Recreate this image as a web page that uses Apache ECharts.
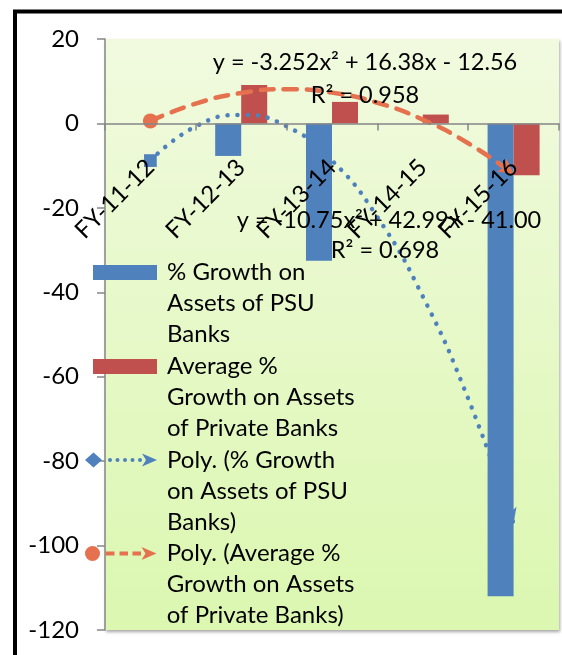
<!DOCTYPE html>
<html>
<head>
<meta charset="utf-8">
<script src="https://cdn.jsdelivr.net/npm/echarts@6/dist/echarts.min.js"></script>
<style>
  html, body { margin: 0; padding: 0; background: #fff; }
  #chart { width: 562px; height: 655px; }
</style>
</head>
<body>
<div id="chart"></div>
<script>
// categories and values
const categories = ['FY-11-12', 'FY-12-13', 'FY-13-14', 'FY-14-15', 'FY-15-16'];
const psuGrowth = [null, -7.7, -32.5, null, -112];
const privateGrowth = [null, 9.1, 5.1, 2.1, -12.3];

// trend curves, read at every half category
const trendX = [1, 1.5, 2, 2.5, 3, 3.5, 4, 4.5, 5];
const psuTrend = [-8.8, -0.7, 2.0, -0.7, -8.8, -22.2, -41.0, -65.2, -94.8];
const privateTrend = [0.6, 4.7, 7.2, 8.1, 7.3, 4.9, 0.9, -4.7, -12.0];

const yMin = -120, yMax = 20, yStep = 20;

const psuName = '% Growth on Assets of PSU Banks';
const privName = 'Average % Growth on Assets of Private Banks';
const psuPolyName = 'Poly. (% Growth on Assets of PSU Banks)';
const privPolyName = 'Poly. (Average % Growth on Assets of Private Banks)';

// two blank lines first so the first text line sits level with the key
const legendText = {};
legendText[psuName] = '\n\n% Growth on\nAssets of PSU\nBanks';
legendText[privName] = '\n\nAverage %\nGrowth on Assets\nof Private Banks';
legendText[psuPolyName] = '\n\nPoly. (% Growth\non Assets of PSU\nBanks)';
legendText[privPolyName] = '\n\nPoly. (Average %\nGrowth on Assets\nof Private Banks)';

const FONT = 'Lato';
const BLUE = '#4F81BD';
const RED = '#C0504D';
const ORANGE = '#E5714E';

const gridTop = 39, gridBottom = 25, chartH = 655;
const gridH = chartH - gridTop - gridBottom;
// category axis sits on the zero line
const zeroOffset = gridH * (0 - yMin) / (yMax - yMin);

const chart = echarts.init(document.getElementById('chart'));

function trendData(ys, startSymbol, startSize, startRotate, endRotate) {
  return trendX.map((x, i) => {
    const item = { value: [x, ys[i]], symbol: 'none' };
    if (i === 0) {
      item.symbol = startSymbol;
      item.symbolSize = startSize;
      item.symbolRotate = startRotate;
    }
    if (i === ys.length - 1) {
      item.symbol = 'arrow';
      item.symbolSize = [12, 15];
      item.symbolRotate = endRotate;
    }
    return item;
  });
}

const arrowPath = 'M57,1L72,7.5L57,14L61,7.5Z';
const dotsPath = [25, 32.5, 40, 47.5, 55]
  .map(c => 'M' + (c - 2) + ',7.5a2,2 0 1,0 4,0a2,2 0 1,0 -4,0Z').join('');
const psuPolyIcon = 'path://M0,7.5L8.5,0L17,7.5L8.5,15Z' + dotsPath + arrowPath;
const privPolyIcon = 'path://M0.5,7.5a7.5,7.5 0 1,0 15,0a7.5,7.5 0 1,0 -15,0Z' +
  'M21,5.5h9v4h-9ZM35,5.5h8.5v4h-8.5ZM48,5.5h8.5v4h-8.5Z' + arrowPath;

function legendFor(name, icon, left, top, width) {
  return {
    data: [{ name: name, icon: icon }],
    left: left,
    top: top,
    orient: 'vertical',
    padding: 0,
    itemGap: 0,
    itemWidth: width,
    itemHeight: 15,
    selectedMode: false,
    itemStyle: { borderWidth: 0 },
    formatter: n => legendText[n],
    textStyle: {
      fontFamily: FONT,
      fontSize: 24,
      color: '#000',
      lineHeight: 31,
      padding: [0, 0, 0, 5]
    }
  };
}

function label(text, x, y) {
  return {
    type: 'text',
    z: 100,
    style: {
      text: text,
      x: x,
      y: y,
      align: 'center',
      verticalAlign: 'middle',
      font: '23.5px ' + FONT,
      fill: '#000'
    }
  };
}

const option = {
  animation: false,
  backgroundColor: '#fff',
  grid: {
    left: 105,
    right: 3,
    top: gridTop,
    bottom: gridBottom,
    outerBoundsMode: 'none',
    containLabel: false,
    show: true,
    borderWidth: 0,
    backgroundColor: {
      type: 'linear', x: 0, y: 0, x2: 0, y2: 1,
      colorStops: [
        { offset: 0, color: '#F1FADF' },
        { offset: 1, color: '#DBF7B0' }
      ]
    },
    shadowColor: 'rgba(0,0,0,0.35)',
    shadowBlur: 3,
    shadowOffsetX: 1,
    shadowOffsetY: 2
  },
  xAxis: [
    {
      type: 'category',
      data: categories,
      position: 'bottom',
      offset: -zeroOffset,
      z: 10,
      axisLine: { onZero: false, lineStyle: { color: '#868686', width: 1.5 } },
      axisTick: { show: true, length: 7, lineStyle: { color: '#868686', width: 1.5 } },
      axisLabel: {
        rotate: 45,
        margin: 40,
        interval: 0,
        hideOverlap: false,
        fontFamily: FONT,
        fontSize: 24,
        color: '#000'
      }
    },
    {
      type: 'value',
      position: 'top',
      min: 0.5,
      max: 5.5,
      show: false
    }
  ],
  yAxis: {
    type: 'value',
    min: yMin,
    max: yMax,
    interval: yStep,
    splitLine: { show: false },
    axisLine: { show: true, onZero: false, lineStyle: { color: '#868686', width: 1.5 } },
    axisTick: { show: true, length: 8, lineStyle: { color: '#868686', width: 1.5 } },
    axisLabel: {
      margin: 26,
      fontFamily: FONT,
      fontSize: 24,
      color: '#000'
    }
  },
  legend: [
    legendFor(psuName, 'rect', 93, 195, 64),
    legendFor(privName, 'rect', 93, 289, 64),
    legendFor(psuPolyName, psuPolyIcon, 85, 382.5, 72),
    legendFor(privPolyName, privPolyIcon, 85, 476, 72)
  ],
  series: [
    {
      name: psuName,
      type: 'bar',
      data: psuGrowth,
      barGap: '0%',
      barCategoryGap: '42.7%',
      itemStyle: { color: BLUE }
    },
    {
      name: privName,
      type: 'bar',
      data: privateGrowth,
      itemStyle: { color: RED }
    },
    {
      name: psuPolyName,
      type: 'line',
      xAxisIndex: 1,
      smooth: true,
      showAllSymbol: true,
      data: trendData(psuTrend, 'diamond', 18, 45, -161.6),
      itemStyle: { color: BLUE, borderWidth: 0 },
      lineStyle: { color: BLUE, width: 4.5, type: [0.1, 10], cap: 'round' }
    },
    {
      name: privPolyName,
      type: 'line',
      xAxisIndex: 1,
      smooth: true,
      showAllSymbol: true,
      data: trendData(privateTrend, 'circle', 15, 0, -126.9),
      itemStyle: { color: ORANGE, borderWidth: 0 },
      lineStyle: { color: ORANGE, width: 4.5, type: [13, 10], cap: 'round' }
    }
  ],
  graphic: [
    {
      type: 'rect',
      z: 100,
      shape: { x: 15, y: 11.5, width: 620, height: 720 },
      style: { fill: 'none', stroke: '#000', lineWidth: 4 }
    },
    label('y = -3.252x² + 16.38x - 12.56', 365, 62),
    label('R² = 0.958', 365, 95),
    label('y = -10.75x² + 42.99x - 41.00', 389, 220),
    label('R² = 0.698', 385, 250)
  ]
};

chart.setOption(option);
</script>
</body>
</html>
